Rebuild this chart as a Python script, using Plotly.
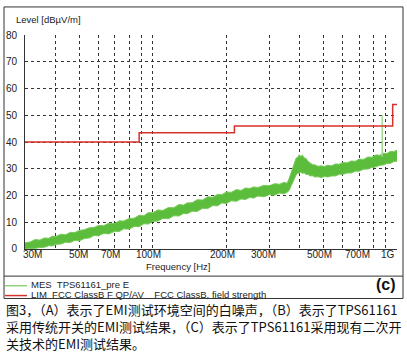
import math
import plotly.graph_objects as go

# ---------------- data ----------------
freq_mhz = [30, 31.5, 33, 34.5, 36, 37.5, 39, 40, 42, 44, 46, 48, 50, 52.5, 55, 57.5, 60,
            63, 66, 70, 73, 76, 80, 84, 88, 92, 96, 100, 105, 110, 116, 122, 128, 134, 138,
            145, 152, 160, 168, 176, 184, 192, 200, 210, 220, 230, 240, 250, 258, 270, 285,
            300, 315, 330, 345, 355, 362, 368, 374, 380, 386, 392, 398, 404, 410, 417, 424,
            432, 440, 450, 462, 475, 490, 505, 520, 540, 560, 580, 600, 625, 650, 675, 700,
            730, 760, 790, 820, 850, 880, 910, 940, 970, 1000]
noise_low = [0.0, 0.0, 0.2, 0.5, 0.6, 1.2, 1.1, 1.7, 1.8, 2.5, 2.4, 3.2, 3.0, 3.9, 4.1, 5.0, 4.9,
             5.8, 5.6, 6.6, 6.5, 7.5, 7.4, 8.4, 8.3, 9.4, 9.3, 10.3, 10.4, 11.4, 11.3, 12.4, 12.3, 13.3, 13.1,
             14.1, 14.0, 15.2, 15.1, 16.2, 16.1, 17.2, 17.0, 18.0, 17.8, 18.7, 18.5, 19.3, 19.0, 19.8, 19.5,
             20.3, 20.1, 20.9, 20.6, 21.2, 21.9, 23.4, 24.9, 26.4, 27.6, 28.4, 28.3, 28.8, 28.2, 28.5, 27.8,
             27.9, 27.3, 27.4, 26.9, 27.0, 26.7, 27.1, 26.9, 27.3, 27.3, 27.9, 27.9, 28.4, 28.4, 29.1, 29.1,
             29.8, 29.9, 30.5, 30.7, 31.3, 31.4, 32.0, 32.0, 32.7, 32.8]
noise_high = [2.3, 2.6, 3.5, 3.3, 4.1, 4.0, 4.8, 4.6, 5.5, 5.3, 6.2, 6.1, 6.9, 7.2, 7.9, 8.0, 8.8,
              8.7, 9.6, 9.5, 10.5, 10.4, 11.4, 11.5, 12.6, 12.4, 13.6, 13.5, 14.6, 14.4, 15.5, 15.4, 16.6, 16.4, 17.2,
              17.3, 18.4, 18.3, 19.5, 19.3, 20.4, 20.3, 21.3, 21.2, 22.2, 21.9, 22.8, 22.6, 23.2, 23.0, 23.8,
              23.6, 24.4, 24.2, 24.9, 24.6, 26.4, 28.5, 30.6, 32.1, 33.9, 34.3, 35.2, 34.6, 35.1, 34.0, 33.9,
              32.8, 32.4, 31.6, 31.4, 30.9, 31.1, 30.8, 31.3, 31.1, 31.8, 31.7, 32.3, 32.2, 32.9, 32.8, 33.6,
              33.5, 34.4, 34.3, 35.2, 35.0, 35.8, 35.7, 36.5, 36.4, 37.0]
spike_freq_mhz = [868, 870, 872]
spike_level = [34.5, 50.0, 34.5]
limit_freq_mhz = [30, 88, 216, 960, 1000]
limit_level = [40, 43.5, 46, 54, 54]
grid_freq_mhz = [30, 40, 50, 60, 70, 80, 90, 100, 200, 300, 400, 500, 600, 700, 800, 900, 1000]
xtick_freq_mhz = [30, 50, 70, 100, 200, 300, 500, 700, 1000]
xtick_text = ["30M", "50M", "70M", "100M", "200M", "300M", "500M", "700M", "1G"]
ytick_vals = [0, 10, 20, 30, 40, 50, 60, 70, 80]
x_range_mhz = [30, 1000]
y_range = [0, 80]

# ---------------- styling ----------------
W, H = 407, 354
GREEN = "#5cbd3c"
GREEN_EDGE = "#78cb5a"
SPIKE = "#9ed68e"
RED = "#d8302a"
GRID = "#333333"
NARROW = "Liberation Sans Narrow, Arial Narrow, Liberation Sans, Arial, sans-serif"
xtick_shift = [7, -1, -4, -4, -4, -6, -4, -2, -9]


def px(x):
    return x / W


def py(y):
    return 1 - y / H


fig = go.Figure()
fig.add_trace(go.Scatter(
    x=freq_mhz, y=noise_low, mode="lines",
    line=dict(color=GREEN_EDGE, width=1), showlegend=False, hoverinfo="skip"))
fig.add_trace(go.Scatter(
    x=freq_mhz, y=noise_high, mode="lines", fill="tonexty", fillcolor=GREEN,
    line=dict(color=GREEN_EDGE, width=1), name="MES TPS61161_pre E", hoverinfo="skip"))
fig.add_trace(go.Scatter(
    x=spike_freq_mhz, y=spike_level, mode="lines",
    line=dict(color=SPIKE, width=1), showlegend=False, hoverinfo="skip"))
fig.add_trace(go.Scatter(
    x=limit_freq_mhz, y=limit_level, mode="lines", line_shape="hv",
    line=dict(color=RED, width=1.5), name="LIM FCC ClassB F QP/AV", hoverinfo="skip"))

fig.update_layout(
    width=W, height=H, autosize=False,
    margin=dict(l=0, r=0, t=0, b=0),
    showlegend=False,
    font=dict(family=NARROW, size=10, color="#222"),
    xaxis=dict(
        type="log", range=[math.log10(x_range_mhz[0]), math.log10(x_range_mhz[1])],
        domain=[px(25), px(397)],
        tickmode="array", tickvals=grid_freq_mhz, showticklabels=False,
        showgrid=True, gridcolor=GRID, griddash="dot", gridwidth=1,
        showline=True, linecolor="#333", linewidth=1, zeroline=False,
    ),
    yaxis=dict(
        range=y_range, domain=[py(251), py(31)],
        tickmode="array", tickvals=ytick_vals,
        showgrid=True, gridcolor=GRID, griddash="dot", gridwidth=1,
        showline=True, linecolor="#333", linewidth=1, zeroline=False,
        ticks="outside", ticklen=5, tickcolor="rgba(0,0,0,0)",
        tickfont=dict(family=NARROW, size=10, color="#222"),
    ),
    plot_bgcolor="rgba(0,0,0,0)", paper_bgcolor="white",
)

ann = []
for f, t, s in zip(xtick_freq_mhz, xtick_text, xtick_shift):
    ann.append(dict(x=math.log10(f), y=py(257), xref="x", yref="paper", text=t,
                    showarrow=False, xanchor="center", yanchor="middle", xshift=s,
                    font=dict(family=NARROW, size=10, color="#222")))
ann.append(dict(x=px(178), y=py(269), xref="paper", yref="paper", text="Frequency [Hz]",
                showarrow=False, xanchor="center", yanchor="middle",
                font=dict(family=NARROW, size=9.5, color="#222")))
ann.append(dict(x=px(14), y=py(15), xref="paper", yref="paper", text="Level [dBµV/m]",
                showarrow=False, xanchor="left", yanchor="middle",
                font=dict(family=NARROW, size=9.5, color="#222")))
ann.append(dict(x=px(29), y=py(287.5), xref="paper", yref="paper",
                text="MES\u00a0\u00a0TPS61161_pre E",
                showarrow=False, xanchor="left", yanchor="middle",
                font=dict(family=NARROW, size=9.5, color="#222")))
ann.append(dict(x=px(29), y=py(297.5), xref="paper", yref="paper",
                text="LIM\u00a0\u00a0FCC ClassB F QP/AV\u00a0\u00a0\u00a0\u00a0FCC ClassB, field strength",
                showarrow=False, xanchor="left", yanchor="middle",
                font=dict(family=NARROW, size=9.5, color="#222")))
ann.append(dict(x=px(386), y=py(288), xref="paper", yref="paper", text="<b>(c)</b>",
                showarrow=False, xanchor="center", yanchor="middle",
                font=dict(family="Liberation Sans, Arial, sans-serif", size=16, color="#111")))
caption = ["图3，（A）表示了EMI测试环境空间的白噪声，（B）表示了TPS61161",
           "采用传统开关的EMI测试结果，（C）表示了TPS61161采用现有二次开",
           "关技术的EMI测试结果。"]
ann.append(dict(x=px(4), y=py(331), xref="paper", yref="paper", text="<br>".join(caption),
                showarrow=False, xanchor="left", yanchor="middle", align="left",
                font=dict(family="Noto Sans CJK SC, sans-serif", size=13, color="#111")))
fig.update_layout(annotations=ann)

frame = dict(color="#333", width=1)
shapes = [
    dict(type="line", xref="paper", yref="paper", x0=px(4), x1=px(403), y0=py(2), y1=py(2), line=frame),
    dict(type="line", xref="paper", yref="paper", x0=px(4), x1=px(403), y0=py(302), y1=py(302), line=frame),
    dict(type="line", xref="paper", yref="paper", x0=px(4), x1=px(4), y0=py(2), y1=py(302), line=frame),
    dict(type="line", xref="paper", yref="paper", x0=px(403), x1=px(403), y0=py(2), y1=py(302), line=frame),
    dict(type="line", xref="paper", yref="paper", x0=px(4), x1=px(403), y0=py(279), y1=py(279), line=frame),
    dict(type="line", xref="paper", yref="paper", x0=px(5), x1=px(27), y0=py(289), y1=py(289),
         line=dict(color=GREEN, width=1)),
    dict(type="line", xref="paper", yref="paper", x0=px(5), x1=px(27), y0=py(299), y1=py(299),
         line=dict(color=RED, width=1.5)),
]
fig.update_layout(shapes=shapes)

fig.write_html("out.html")
